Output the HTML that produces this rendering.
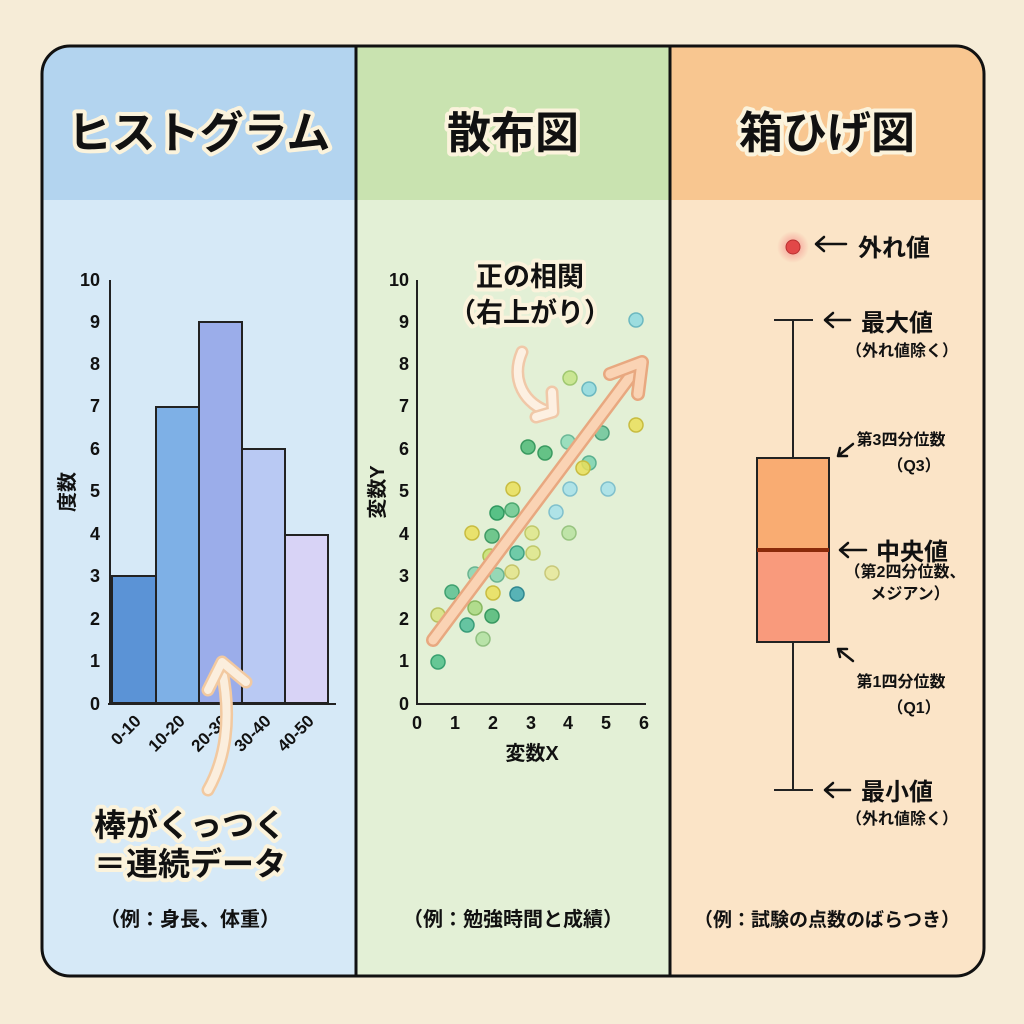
<!DOCTYPE html>
<html><head><meta charset="utf-8"><style>
html,body{margin:0;padding:0;background:#f6ecd7;}
svg{display:block;font-family:"Liberation Sans","Noto Sans CJK JP",sans-serif;}
.t{font-weight:bold;fill:#111;}
.o{paint-order:stroke;stroke:#fbf3dc;stroke-width:8px;stroke-linejoin:round;}
</style></head><body>
<svg width="1024" height="1024" viewBox="0 0 1024 1024" xmlns="http://www.w3.org/2000/svg">
<rect width="1024" height="1024" fill="#f6ecd7"/>
<defs><clipPath id="c"><rect x="42" y="46" width="942" height="930" rx="28"/></clipPath>
<radialGradient id="g"><stop offset="0" stop-color="#f28080" stop-opacity="0.8"/><stop offset="1" stop-color="#f28080" stop-opacity="0"/></radialGradient></defs>
<g clip-path="url(#c)">
<rect x="42" y="46" width="314" height="154" fill="#b3d4ef"/>
<rect x="42" y="200" width="314" height="776" fill="#d6e9f7"/>
<rect x="356" y="46" width="314" height="154" fill="#c9e3b0"/>
<rect x="356" y="200" width="314" height="776" fill="#e3f0d6"/>
<rect x="670" y="46" width="314" height="154" fill="#f8c690"/>
<rect x="670" y="200" width="314" height="776" fill="#fbe4c7"/>
</g>
<rect x="42" y="46" width="942" height="930" rx="28" fill="none" stroke="#111" stroke-width="3"/>
<line x1="356" y1="46" x2="356" y2="976" stroke="#111" stroke-width="3"/>
<line x1="670" y1="46" x2="670" y2="976" stroke="#111" stroke-width="3"/>
<text class="t o" x="199" y="148" font-size="44" text-anchor="middle">ヒストグラム</text>
<text class="t o" x="513" y="148" font-size="44" text-anchor="middle">散布図</text>
<text class="t o" x="827" y="148" font-size="44" text-anchor="middle">箱ひげ図</text>

<!-- histogram -->
<g stroke="#222" stroke-width="2">
<rect x="112" y="576" width="44" height="127" fill="#5b93d6"/>
<rect x="156" y="407" width="43" height="296" fill="#7eb0e6"/>
<rect x="199" y="322" width="43" height="381" fill="#9badea"/>
<rect x="242" y="449" width="43" height="254" fill="#b9c9f3"/>
<rect x="285" y="535" width="43" height="168" fill="#d8d3f6"/>
<line x1="110" y1="280" x2="110" y2="704"/><line x1="108" y1="704" x2="336" y2="704"/>
</g>
<g class="t" font-size="18" text-anchor="end">
<text x="100" y="710">0</text><text x="100" y="667">1</text><text x="100" y="625">2</text><text x="100" y="582">3</text><text x="100" y="540">4</text><text x="100" y="497">5</text><text x="100" y="455">6</text><text x="100" y="412">7</text><text x="100" y="370">8</text><text x="100" y="328">9</text><text x="100" y="286">10</text>
</g>
<text class="t" font-size="20" transform="translate(74,492) rotate(-90)" text-anchor="middle">度数</text>
<g class="t" font-size="17" text-anchor="end">
<text transform="translate(142,722) rotate(-45)">0-10</text>
<text transform="translate(186,722) rotate(-45)">10-20</text>
<text transform="translate(229,722) rotate(-45)">20-30</text>
<text transform="translate(272,722) rotate(-45)">30-40</text>
<text transform="translate(315,722) rotate(-45)">40-50</text>
</g>
<path d="M208,790 C225,760 232,720 222,670" fill="none" stroke="#f2c9a0" stroke-width="13" stroke-linecap="round"/>
<path d="M208,790 C225,760 232,720 222,670" fill="none" stroke="#fbeedd" stroke-width="8" stroke-linecap="round"/>
<path d="M208,690 L222,662 L246,682" fill="none" stroke="#f2c9a0" stroke-width="13" stroke-linecap="round" stroke-linejoin="round"/>
<path d="M208,690 L222,662 L246,682" fill="none" stroke="#fbeedd" stroke-width="8" stroke-linecap="round" stroke-linejoin="round"/>
<text class="t o" x="190" y="836" font-size="32" text-anchor="middle">棒がくっつく</text>
<text class="t o" x="190" y="875" font-size="32" text-anchor="middle">＝連続データ</text>
<text class="t" x="190" y="926" font-size="20" text-anchor="middle">（例：身長、体重）</text>

<!-- scatter -->
<g stroke="#222" stroke-width="2">
<line x1="417" y1="280" x2="417" y2="705"/><line x1="416" y1="704" x2="646" y2="704"/>
</g>
<g class="t" font-size="18" text-anchor="end">
<text x="409" y="710">0</text><text x="409" y="667">1</text><text x="409" y="625">2</text><text x="409" y="582">3</text><text x="409" y="540">4</text><text x="409" y="497">5</text><text x="409" y="455">6</text><text x="409" y="412">7</text><text x="409" y="370">8</text><text x="409" y="328">9</text><text x="409" y="286">10</text>
</g>
<g class="t" font-size="18" text-anchor="middle">
<text x="417" y="729">0</text><text x="455" y="729">1</text><text x="493" y="729">2</text><text x="531" y="729">3</text><text x="568" y="729">4</text><text x="606" y="729">5</text><text x="644" y="729">6</text>
</g>
<text class="t" x="532" y="760" font-size="20" text-anchor="middle">変数X</text>
<text class="t" font-size="20" transform="translate(384,492) rotate(-90)" text-anchor="middle">変数Y</text>
<g stroke-width="1.5" fill-opacity="0.85">
<circle cx="636" cy="320" r="7" fill="#8fd9e0" stroke="#6cb8c0"/>
<circle cx="570" cy="378" r="7" fill="#c5e487" stroke="#a0c870"/>
<circle cx="589" cy="389" r="7" fill="#8fd9e0" stroke="#6cb8c0"/>
<circle cx="636" cy="425" r="7" fill="#eadf5a" stroke="#c8bc40"/>
<circle cx="602" cy="433" r="7" fill="#6cc49a" stroke="#4ea07a"/>
<circle cx="568" cy="442" r="7" fill="#8edbb8" stroke="#6cb898"/>
<circle cx="528" cy="447" r="7" fill="#4fba78" stroke="#3a9a60"/>
<circle cx="545" cy="453" r="7" fill="#4fba78" stroke="#3a9a60"/>
<circle cx="589" cy="463" r="7" fill="#7dd2b0" stroke="#5ab090"/>
<circle cx="583" cy="468" r="7" fill="#eadf5a" stroke="#c8bc40"/>
<circle cx="513" cy="489" r="7" fill="#eadf5a" stroke="#c8bc40"/>
<circle cx="570" cy="489" r="7" fill="#a6e0ea" stroke="#80c0cc"/>
<circle cx="608" cy="489" r="7" fill="#a6e0ea" stroke="#80c0cc"/>
<circle cx="497" cy="513" r="7" fill="#40b878" stroke="#309860"/>
<circle cx="512" cy="510" r="7" fill="#6cc890" stroke="#4ea870"/>
<circle cx="556" cy="512" r="7" fill="#a6e0ea" stroke="#80c0cc"/>
<circle cx="472" cy="533" r="7" fill="#eadf5a" stroke="#c8bc40"/>
<circle cx="492" cy="536" r="7" fill="#5cc080" stroke="#409a64"/>
<circle cx="532" cy="533" r="7" fill="#dfe68a" stroke="#c0c86a"/>
<circle cx="569" cy="533" r="7" fill="#b8e2a0" stroke="#98c480"/>
<circle cx="490" cy="556" r="7" fill="#c8e070" stroke="#a8c050"/>
<circle cx="517" cy="553" r="7" fill="#5cc4a0" stroke="#40a080"/>
<circle cx="533" cy="553" r="7" fill="#dfe68a" stroke="#c0c86a"/>
<circle cx="475" cy="574" r="7" fill="#8ad4b0" stroke="#6ab490"/>
<circle cx="497" cy="575" r="7" fill="#8ad4b0" stroke="#6ab490"/>
<circle cx="512" cy="572" r="7" fill="#e4e48a" stroke="#c4c46a"/>
<circle cx="552" cy="573" r="7" fill="#e8e89a" stroke="#c8c87a"/>
<circle cx="452" cy="592" r="7" fill="#5cc090" stroke="#40a070"/>
<circle cx="493" cy="593" r="7" fill="#eadf5a" stroke="#c8bc40"/>
<circle cx="517" cy="594" r="7" fill="#40a8b0" stroke="#308890"/>
<circle cx="438" cy="615" r="7" fill="#d8e280" stroke="#b8c260"/>
<circle cx="475" cy="608" r="7" fill="#a8d880" stroke="#88b860"/>
<circle cx="467" cy="625" r="7" fill="#50bc98" stroke="#389c78"/>
<circle cx="492" cy="616" r="7" fill="#50b878" stroke="#389860"/>
<circle cx="483" cy="639" r="7" fill="#b0e0a0" stroke="#90c080"/>
<circle cx="438" cy="662" r="7" fill="#50c08a" stroke="#38a070"/>
</g>
<line x1="433" y1="640" x2="638" y2="366" stroke="#e8a880" stroke-width="14" stroke-linecap="round"/>
<line x1="433" y1="640" x2="638" y2="366" stroke="#fad3b4" stroke-width="9" stroke-linecap="round"/>
<path d="M610,374 L642,362 L638,394" fill="none" stroke="#e8a880" stroke-width="14" stroke-linecap="round" stroke-linejoin="round"/>
<path d="M610,374 L642,362 L638,394" fill="none" stroke="#fad3b4" stroke-width="9" stroke-linecap="round" stroke-linejoin="round"/>
<path d="M522,352 C510,380 525,405 550,412" fill="none" stroke="#f0c8a8" stroke-width="13" stroke-linecap="round"/>
<path d="M522,352 C510,380 525,405 550,412" fill="none" stroke="#fdf0e2" stroke-width="8" stroke-linecap="round"/>
<path d="M536,417 L553,412 L552,392" fill="none" stroke="#f0c8a8" stroke-width="13" stroke-linecap="round" stroke-linejoin="round"/>
<path d="M536,417 L553,412 L552,392" fill="none" stroke="#fdf0e2" stroke-width="8" stroke-linecap="round" stroke-linejoin="round"/>
<text class="t o" x="530" y="286" font-size="27" text-anchor="middle">正の相関</text>
<text class="t o" x="530" y="322" font-size="27" text-anchor="middle">（右上がり）</text>
<text class="t" x="513" y="926" font-size="20" text-anchor="middle">（例：勉強時間と成績）</text>

<!-- box plot -->
<circle cx="793" cy="247" r="16" fill="url(#g)"/>
<circle cx="793" cy="247" r="7" fill="#e24848" stroke="#b83030" stroke-width="1"/>
<g stroke="#222" stroke-width="2" fill="none">
<line x1="793" y1="320" x2="793" y2="458"/><line x1="793" y1="642" x2="793" y2="790"/>
<line x1="774" y1="320" x2="813" y2="320"/><line x1="774" y1="790" x2="813" y2="790"/>
</g>
<rect x="757" y="458" width="72" height="92" fill="#f9ac72" stroke="#222" stroke-width="2"/>
<rect x="757" y="550" width="72" height="92" fill="#f99a7c" stroke="#222" stroke-width="2"/>
<line x1="757" y1="550" x2="829" y2="550" stroke="#8a2a0a" stroke-width="4"/>
<g stroke="#111" stroke-width="2.5" fill="none" stroke-linecap="round" stroke-linejoin="round">
<path d="M816,244 L846,244 M824,237 L816,244 L824,251"/>
<path d="M825,320 L850,320 M833,313 L825,320 L833,327"/>
<path d="M840,550 L866,550 M848,543 L840,550 L848,557"/>
<path d="M825,790 L850,790 M833,783 L825,790 L833,797"/>
<path d="M853,444 L838,456 M838,456 L847,456 M838,456 L840,448"/>
<path d="M853,661 L838,649 M838,649 L847,649 M838,649 L840,657"/>
</g>
<g class="t" font-size="24">
<text x="858" y="256">外れ値</text>
<text x="861" y="331">最大値</text>
<text x="876" y="560">中央値</text>
<text x="861" y="800">最小値</text>
</g>
<g class="t" font-size="16" text-anchor="middle">
<text x="902" y="356">（外れ値除く）</text>
<text x="901" y="445">第3四分位数</text>
<text x="914" y="471">（Q3）</text>
<text x="905" y="577">（第2四分位数、</text>
<text x="910" y="599">メジアン）</text>
<text x="901" y="687">第1四分位数</text>
<text x="914" y="713">（Q1）</text>
<text x="902" y="824">（外れ値除く）</text>
</g>
<text class="t" x="827" y="926" font-size="19" text-anchor="middle">（例：試験の点数のばらつき）</text>
</svg>
</body></html>
